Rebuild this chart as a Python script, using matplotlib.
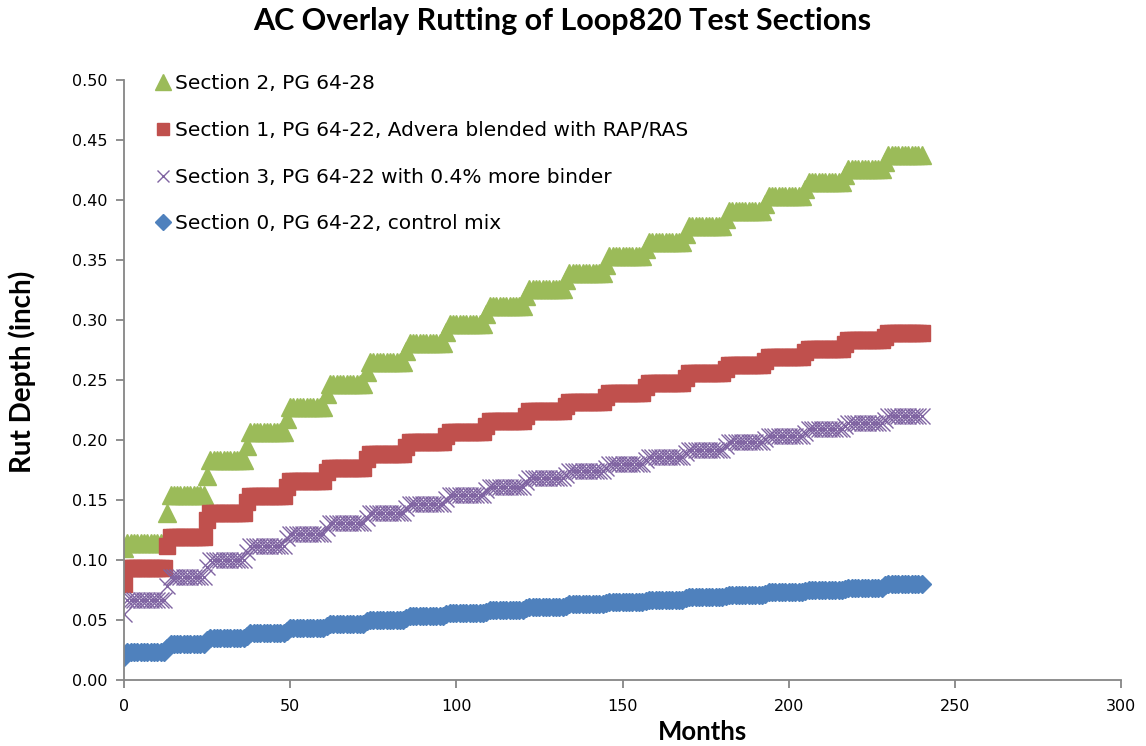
import numpy as np
import matplotlib
matplotlib.use('Agg')
import matplotlib.pyplot as plt

# rut depth (inch): month 0, then one plateau per year (months 1-12, 13-24, ...),
# and the first month of every later year (13, 25, ..., 229)
months = np.arange(0, 241)

sec2_start = 0.110
sec2_plateau = [0.114, 0.154, 0.183, 0.207, 0.2275, 0.2465, 0.265, 0.281, 0.297, 0.312,
                0.326, 0.339, 0.353, 0.365, 0.378, 0.391, 0.403, 0.415, 0.426, 0.4375]
sec2_first = [0.139, 0.170, 0.195, 0.2175, 0.238, 0.257, 0.274, 0.290, 0.305, 0.320,
              0.333, 0.346, 0.359, 0.372, 0.384, 0.397, 0.409, 0.421, 0.432]

sec1_start = 0.080
sec1_plateau = [0.093, 0.119, 0.139, 0.153, 0.166, 0.177, 0.188, 0.198, 0.207, 0.216,
                0.224, 0.232, 0.239, 0.2475, 0.2555, 0.2625, 0.269, 0.276, 0.283, 0.289]
sec1_first = [0.112, 0.133, 0.148, 0.161, 0.173, 0.184, 0.194, 0.203, 0.212, 0.220,
              0.228, 0.236, 0.244, 0.252, 0.259, 0.266, 0.273, 0.280, 0.286]

sec3_start = 0.055
sec3_plateau = [0.067, 0.086, 0.100, 0.112, 0.122, 0.131, 0.139, 0.147, 0.154, 0.161,
                0.168, 0.174, 0.180, 0.186, 0.192, 0.198, 0.203, 0.209, 0.214, 0.220]
sec3_first = [0.078, 0.094, 0.107, 0.118, 0.127, 0.135, 0.143, 0.151, 0.158, 0.165,
              0.171, 0.177, 0.183, 0.189, 0.195, 0.201, 0.206, 0.212, 0.217]

sec0_start = 0.019
sec0_plateau = [0.023, 0.030, 0.035, 0.039, 0.043, 0.047, 0.050, 0.053, 0.056, 0.058,
                0.061, 0.063, 0.065, 0.067, 0.069, 0.071, 0.073, 0.075, 0.077, 0.080]
sec0_first = [0.027, 0.033, 0.037, 0.041, 0.045, 0.049, 0.052, 0.055, 0.057, 0.060,
              0.062, 0.064, 0.066, 0.068, 0.070, 0.072, 0.074, 0.076, 0.079]

labels = ['Section 2, PG 64-28',
          'Section 1, PG 64-22, Advera blended with RAP/RAS',
          'Section 3, PG 64-22 with 0.4% more binder',
          'Section 0, PG 64-22, control mix']


def monthly(start, plateau, first):
    vals = [start]
    for k, p in enumerate(plateau):
        year = [p] * 12
        if k > 0:
            year[0] = first[k - 1]
        vals += year
    return np.array(vals)


fig = plt.figure(figsize=(11.46, 7.46), dpi=100)
ax = fig.add_axes([0.1082, 0.0885, 0.8700, 0.8043])

ax.plot(months, monthly(sec2_start, sec2_plateau, sec2_first), ls='none', marker='^',
        ms=13, color='#9BBB59', mec='#9BBB59', label=labels[0])
ax.plot(months, monthly(sec1_start, sec1_plateau, sec1_first), ls='none', marker='s',
        ms=11, color='#C0504D', mec='#C0504D', label=labels[1])
ax.plot(months, monthly(sec3_start, sec3_plateau, sec3_first), ls='none', marker='x',
        ms=11, mew=1.0, color='#8064A2', label=labels[2])
ax.plot(months, monthly(sec0_start, sec0_plateau, sec0_first), ls='none', marker='D',
        ms=9, color='#4F81BD', mec='#4F81BD', label=labels[3])

ax.set_xlim(0, 300)
ax.set_ylim(0, 0.5)
ax.set_xticks(np.arange(0, 301, 50))
ax.set_yticks(np.arange(0, 0.501, 0.05))
ax.set_yticklabels(['%.2f' % v for v in np.arange(0, 0.501, 0.05)])

for s in ['top', 'right']:
    ax.spines[s].set_visible(False)
for s in ['left', 'bottom']:
    ax.spines[s].set_color('#868686')
    ax.spines[s].set_linewidth(1.3)
ax.tick_params(axis='both', direction='out', length=6, width=1.3, color='#868686',
               labelsize=11.5, labelcolor='black')
ax.tick_params(axis='x', pad=8)
ax.tick_params(axis='y', pad=6)

fig.text(0.491, 0.972, 'AC Overlay Rutting of Loop820 Test Sections', fontsize=22,
         fontweight='bold', family='Lato', ha='center', va='center')
ax.set_xlabel('Months', fontsize=18.5, fontweight='bold', family='Lato')
ax.xaxis.set_label_coords(0.58, -0.066)
ax.set_ylabel('Rut Depth (inch)', fontsize=20, fontweight='bold', family='Lato')
ax.yaxis.set_label_coords(-0.088, 0.513)

leg = ax.legend(loc='upper left', bbox_to_anchor=(0.009, 1.04), frameon=False,
                fontsize=14.5, handletextpad=0.0, labelspacing=1.38, handlelength=1.2,
                markerscale=0.85)

fig.savefig('out.png', dpi=100)
